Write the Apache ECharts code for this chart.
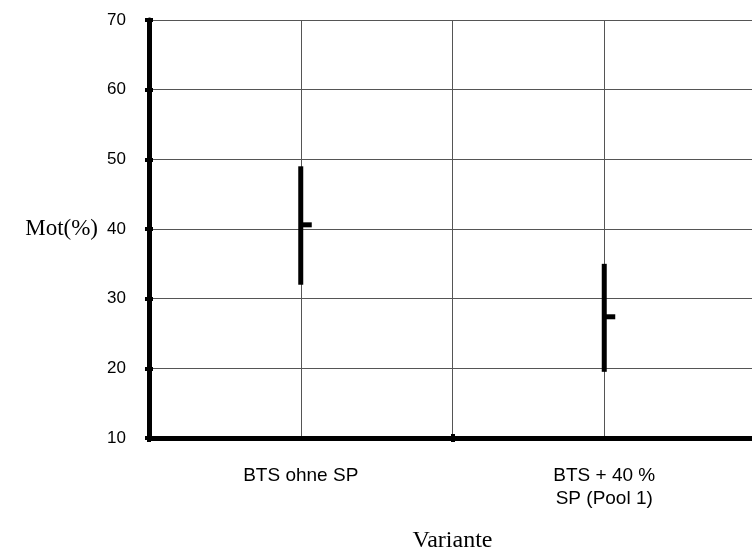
<!DOCTYPE html>
<html>
<head>
<meta charset="utf-8">
<script src="https://cdn.jsdelivr.net/npm/echarts@6/dist/echarts.min.js"></script>
<style>
  html, body { margin: 0; padding: 0; background: #fff; }
  #chart { width: 752px; height: 554px; }
</style>
</head>
<body>
<div id="chart"></div>
<script>
// Variants on the x axis, placed at the middle of each slot
var categories = ['BTS ohne SP', 'BTS + 40 %\nSP (Pool 1)'];
var positions = [0.5, 1.5];
// High / low / close of Mot(%) per variant
var highValues = [49, 35];
var lowValues = [32, 19.5];
var closeValues = [40.6, 27.4];

var seriesData = categories.map(function (c, i) {
  return [positions[i], highValues[i], lowValues[i], closeValues[i]];
});

var chart = echarts.init(document.getElementById('chart'), null, { renderer: 'canvas' });

var sansFont = 'Liberation Sans, Arial, sans-serif';
var serifFont = 'Liberation Serif, Times New Roman, serif';

// Vertical high-low bar with a short close tick to the right
function hlcItem(params, api) {
  var x = api.value(0);
  var hi = api.coord([x, api.value(1)]);
  var lo = api.coord([x, api.value(2)]);
  var cl = api.coord([x, api.value(3)]);
  return {
    type: 'group',
    children: [
      { type: 'line', shape: { x1: hi[0], y1: hi[1], x2: lo[0], y2: lo[1] },
        style: { stroke: '#000', lineWidth: 5 } },
      { type: 'line', shape: { x1: cl[0], y1: cl[1], x2: cl[0] + 11, y2: cl[1] },
        style: { stroke: '#000', lineWidth: 5 } }
    ]
  };
}

chart.setOption({
  backgroundColor: '#fff',
  animation: false,
  grid: { left: 149, top: 20, bottom: 116, right: -4, outerBoundsMode: 'none', containLabel: false },
  xAxis: [
    {
      type: 'value', min: 0, max: 2, interval: 0.5,
      name: 'Variante', nameLocation: 'middle', nameGap: 91,
      nameTextStyle: { fontFamily: serifFont, fontSize: 24, color: '#000' },
      axisLine: { show: true, onZero: false, lineStyle: { color: '#000', width: 5 } },
      axisTick: { show: false },
      splitLine: { show: true, lineStyle: { color: '#555', width: 1 } },
      axisLabel: {
        margin: 26, fontFamily: sansFont, fontSize: 19, color: '#000', lineHeight: 23,
        showMinLabel: true, showMaxLabel: true,
        formatter: function (v) {
          var i = positions.indexOf(v);
          return i >= 0 ? categories[i] : '';
        }
      }
    },
    {
      type: 'value', min: 0, max: 2, interval: 1, position: 'bottom',
      axisLine: { show: false, onZero: false },
      axisTick: { show: true, inside: false, length: 4, lineStyle: { color: '#000', width: 4 } },
      splitLine: { show: false }, axisLabel: { show: false }
    },
    {
      type: 'value', min: 0, max: 2, interval: 1, position: 'bottom',
      axisLine: { show: false, onZero: false },
      axisTick: { show: true, inside: true, length: 4, lineStyle: { color: '#000', width: 4 } },
      splitLine: { show: false }, axisLabel: { show: false }
    }
  ],
  yAxis: [
    {
      type: 'value', min: 10, max: 70, interval: 10,
      name: 'Mot(%)', nameLocation: 'middle', nameGap: 51, nameRotate: 0,
      nameTextStyle: { fontFamily: serifFont, fontSize: 23, color: '#000' },
      axisLine: { show: true, onZero: false, lineStyle: { color: '#000', width: 5 } },
      axisTick: { show: true, inside: false, length: 4, lineStyle: { color: '#000', width: 4 } },
      splitLine: { show: true, lineStyle: { color: '#555', width: 1 } },
      axisLabel: { margin: 23, fontFamily: sansFont, fontSize: 17, color: '#000' }
    },
    {
      type: 'value', min: 10, max: 70, interval: 10, position: 'left',
      axisLine: { show: false, onZero: false },
      axisTick: { show: true, inside: true, length: 4, lineStyle: { color: '#000', width: 4 } },
      splitLine: { show: false }, axisLabel: { show: false }
    }
  ],
  series: [
    {
      type: 'custom',
      xAxisIndex: 0, yAxisIndex: 0,
      renderItem: hlcItem,
      encode: { x: 0, y: [1, 2, 3] },
      data: seriesData,
      z: 5
    }
  ]
});
</script>
</body>
</html>
